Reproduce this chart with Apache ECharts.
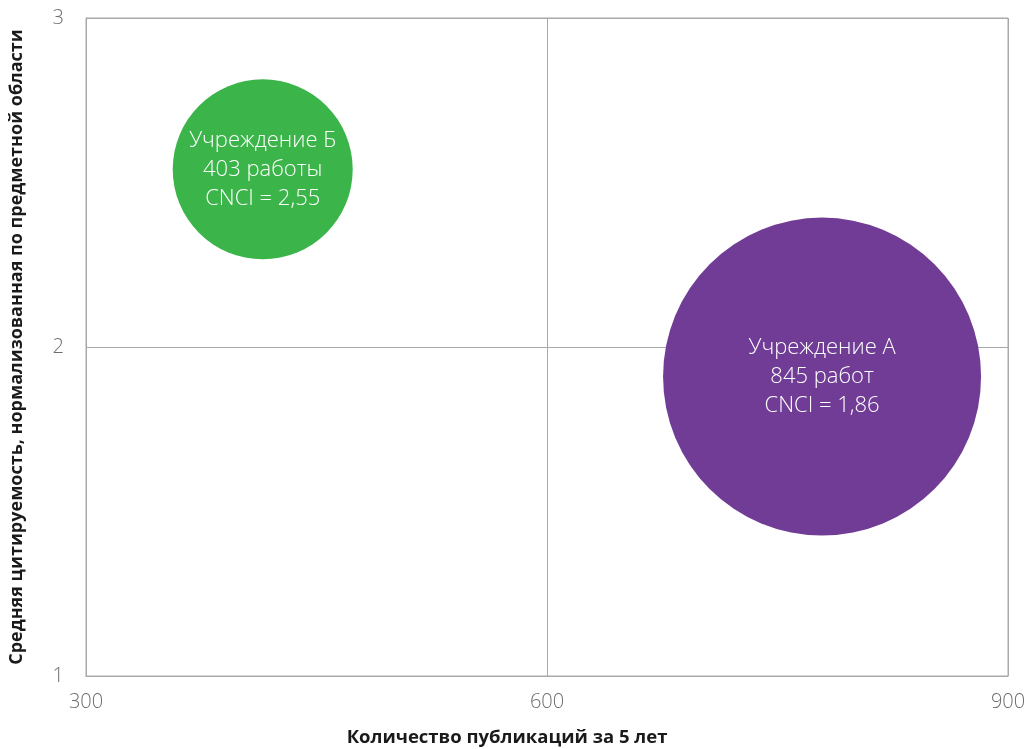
<!DOCTYPE html>
<html>
<head>
<meta charset="utf-8">
<script src="https://cdn.jsdelivr.net/npm/echarts@6/dist/echarts.min.js"></script>
<style>
  html, body { margin: 0; padding: 0; background: #ffffff; }
  #chart { width: 1025px; height: 749px; }
</style>
</head>
<body>
<div id="chart"></div>
<script>
// Institutions compared by output volume and field-normalised citation impact
const institutions = ['Учреждение А', 'Учреждение Б'];
const worksCount = [845, 403];
const worksWord = ['работ', 'работы'];
const cnciValues = ['1,86', '2,55'];
// Bubble centres on the chart scales (publications, CNCI)
const bubbleX = [779, 415];
const bubbleY = [1.91, 2.54];

const xTicks = [300, 600, 900];
const yTicks = [1, 2, 3];

const bubbleColors = ['#703c95', '#3bb54a'];
const bubbleDiameters = [318, 180];

const chart = echarts.init(document.getElementById('chart'), null, { renderer: 'canvas' });

const points = institutions.map((name, i) => ({
  name: name,
  value: [bubbleX[i], bubbleY[i]],
  symbolSize: bubbleDiameters[i],
  itemStyle: { color: bubbleColors[i], opacity: 1 },
  label: {
    formatter: name + '\n' + worksCount[i] + ' ' + worksWord[i] + '\nCNCI = ' + cnciValues[i]
  }
}));

const tickFont = { color: '#6d6e71', fontSize: 20, fontFamily: 'Open Sans', fontWeight: 300 };

chart.setOption({
  animation: false,
  backgroundColor: '#ffffff',
  grid: {
    left: 86, right: 17, top: 18, bottom: 73,
    containLabel: false,
    outerBoundsMode: 'none',
    show: true, borderColor: '#a7a9ac', borderWidth: 1
  },
  xAxis: {
    type: 'value',
    min: xTicks[0], max: xTicks[xTicks.length - 1], interval: xTicks[1] - xTicks[0],
    name: 'Количество публикаций за 5 лет',
    nameLocation: 'middle',
    nameGap: 52,
    nameTextStyle: {
      color: '#1a1a1a', fontSize: 18.5, fontWeight: 'bold', fontFamily: 'Open Sans',
      padding: [0, 80, 0, 0]
    },
    axisLine: { show: true, lineStyle: { color: '#a7a9ac', width: 1 } },
    axisTick: { show: false },
    axisLabel: Object.assign({ margin: 16 }, tickFont),
    splitLine: { show: true, lineStyle: { color: '#a7a9ac', width: 1 } }
  },
  yAxis: {
    type: 'value',
    min: yTicks[0], max: yTicks[yTicks.length - 1], interval: yTicks[1] - yTicks[0],
    name: 'Средняя цитируемость, нормализованная по предметной области',
    nameLocation: 'middle',
    nameGap: 60,
    nameRotate: 90,
    nameTextStyle: {
      color: '#1a1a1a', fontSize: 18, fontWeight: 'bold', fontFamily: 'Open Sans'
    },
    axisLine: { show: true, lineStyle: { color: '#a7a9ac', width: 1 } },
    axisTick: { show: false },
    axisLabel: Object.assign({ margin: 22 }, tickFont),
    splitLine: { show: true, lineStyle: { color: '#a7a9ac', width: 1 } }
  },
  series: [{
    type: 'scatter',
    symbol: 'circle',
    clip: false,
    data: points,
    label: {
      show: true,
      position: 'inside',
      color: '#ffffff',
      fontSize: 22,
      lineHeight: 29,
      fontFamily: 'Open Sans',
      fontWeight: 300,
      align: 'center'
    },
    emphasis: { disabled: true }
  }]
});
</script>
</body>
</html>
